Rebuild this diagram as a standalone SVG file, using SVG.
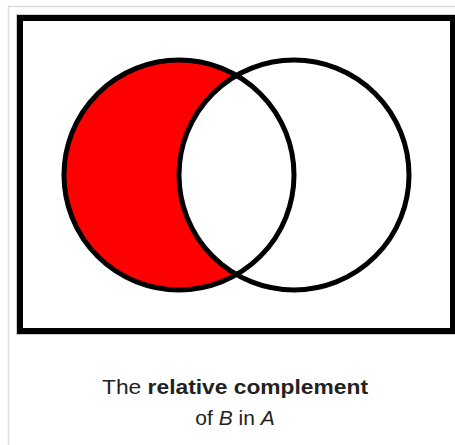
<svg xmlns="http://www.w3.org/2000/svg" width="455" height="445" viewBox="0 0 455 445">
  <style>
    .ring { fill: none; stroke: #000; stroke-width: 5; }
    .cap { font-family: "Liberation Sans", Arial, sans-serif; font-size: 21px; fill: #222; text-anchor: middle; }
  </style>
  <rect width="455" height="445" fill="#fff"/>
  <g id="panel">
    <path d="M8.5 445 V6.5 H455" fill="none" stroke="#ddd" stroke-width="1.5"/>
    <rect x="20" y="18" width="433" height="313" fill="#fff" stroke="#ccc" stroke-width="8"/>
    <rect x="20" y="18" width="433" height="313" fill="#fff" stroke="#000" stroke-width="6"/>
  </g>
  <g id="A-minus-B">
    <path d="M236.5 75.4 A115 115 0 1 0 236.5 274.6 A115 115 0 0 1 236.5 75.4 Z" fill="#ff0000"/>
  </g>
  <g id="circle-A">
    <circle class="ring" cx="179" cy="175" r="115"/>
  </g>
  <g id="circle-B">
    <circle class="ring" cx="294" cy="175" r="115"/>
  </g>
  <g id="caption">
    <text class="cap" x="235" y="394" font-size="22" textLength="266" lengthAdjust="spacingAndGlyphs">The <tspan font-weight="bold">relative complement</tspan></text>
    <text class="cap" x="235" y="425">of <tspan font-style="italic">B</tspan> in <tspan font-style="italic">A</tspan></text>
  </g>
</svg>
